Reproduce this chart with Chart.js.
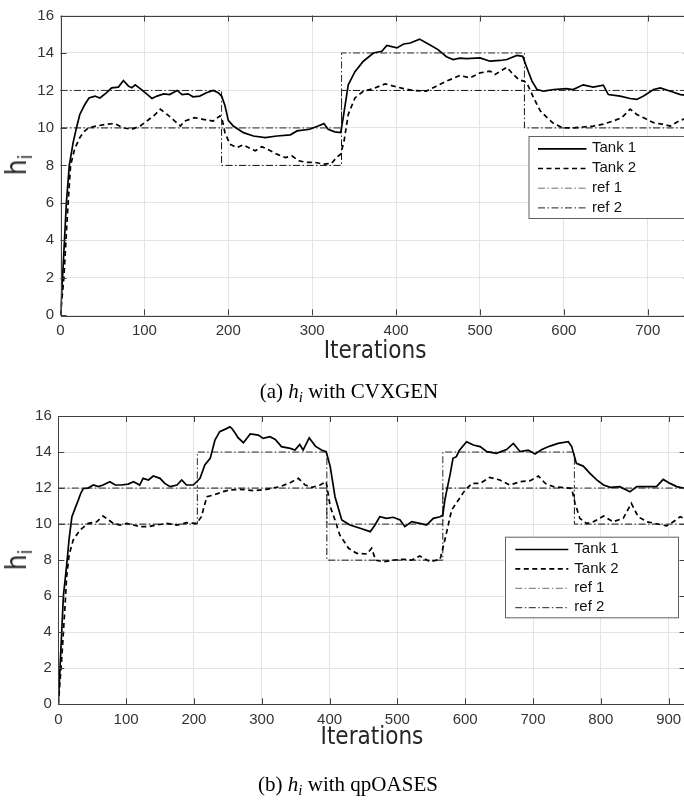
<!DOCTYPE html>
<html>
<head>
<meta charset="utf-8">
<script src="https://cdn.jsdelivr.net/npm/chart.js@4.4.0/dist/chart.umd.min.js"></script>
<style>
  html, body { margin: 0; padding: 0; background: #fff; width: 684px; height: 800px; overflow: hidden; position: relative; }
  .wrap { position: absolute; left: 0; width: 720px; height: 400px; }
  .ylab { position: absolute; font-family: 'DejaVu Sans Condensed', 'DejaVu Sans', sans-serif; font-stretch: condensed;
          font-size: 28px; color: #262626; line-height: 1; white-space: nowrap;
          transform: translate(-50%, -50%) rotate(-90deg); }
  .ylab sub { font-size: 19px; vertical-align: -6px; }
  .cap { position: absolute; font-family: 'Liberation Serif', 'Times New Roman', serif; font-size: 21px; color: #000;
         line-height: 1; white-space: nowrap; transform: translateX(-50%); }
  .cap sub { font-size: 15px; vertical-align: -4px; }
</style>
</head>
<body>
<div class="wrap" style="top:0"><canvas id="cvxgen"></canvas></div>
<div class="wrap" style="top:400px"><canvas id="qpoases"></canvas></div>
<div class="ylab" style="left:19px; top:165px">h<sub>i</sub></div>
<div class="ylab" style="left:19px; top:560px">h<sub>i</sub></div>
<div class="cap" style="left:349px; top:381px">(a) <i>h</i><sub><i>i</i></sub> with CVXGEN</div>
<div class="cap" style="left:348px; top:774px">(b) <i>h</i><sub><i>i</i></sub> with qpOASES</div>

<script>
// ---------- (a) CVXGEN ----------
const cvxTank1X = [0, 3, 7, 10.5, 15, 19, 23, 29, 34, 41, 47, 55, 61, 69, 75, 81, 85, 89, 95, 103, 109, 115, 123, 130, 139, 145, 152, 158, 166, 174, 182, 188, 192, 196, 200, 206, 218, 230, 244, 258, 274, 282, 297, 307, 314, 319, 327, 334, 337, 343, 351, 361, 373, 383, 389, 401, 409, 417, 428, 440, 450, 460, 468, 476, 484, 500, 512, 524, 532, 544, 551, 556, 562, 568, 576, 588, 603, 611, 623, 635, 647, 653, 667, 679, 687, 695, 707, 715, 727, 739, 745];
const cvxTank1 = [0, 2.5, 6.0, 8.0, 9.2, 10.0, 10.72, 11.25, 11.6, 11.7, 11.6, 11.88, 12.14, 12.18, 12.53, 12.23, 12.14, 12.3, 12.1, 11.8, 11.57, 11.7, 11.82, 11.78, 12.0, 11.78, 11.82, 11.66, 11.7, 11.88, 12.0, 11.88, 11.7, 11.2, 10.4, 10.1, 9.75, 9.57, 9.48, 9.57, 9.63, 9.84, 9.93, 10.1, 10.23, 9.93, 9.79, 9.75, 10.55, 12.3, 13.0, 13.56, 14.0, 14.09, 14.4, 14.27, 14.48, 14.53, 14.74, 14.44, 14.18, 13.8, 13.65, 13.72, 13.7, 13.74, 13.56, 13.6, 13.65, 13.87, 13.82, 13.2, 12.5, 12.05, 11.96, 12.05, 12.1, 12.05, 12.3, 12.18, 12.28, 11.78, 11.7, 11.57, 11.52, 11.7, 12.05, 12.14, 11.96, 11.78, 11.75];
const cvxTank2X = [0, 4, 8, 12, 17, 23, 27, 33, 43, 55, 65, 75, 85, 95, 103, 113, 119, 127, 134, 143, 148, 160, 170, 182, 190, 193, 196, 202, 210, 218, 224, 232, 240, 246, 258, 268, 276, 284, 293, 303, 313, 323, 329, 334, 338, 343, 351, 361, 373, 387, 397, 409, 420, 436, 448, 460, 468, 476, 488, 500, 512, 518, 532, 538, 546, 552, 556, 564, 572, 580, 588, 599, 611, 623, 635, 647, 659, 669, 679, 687, 697, 707, 717, 727, 737, 745];
const cvxTank2 = [0, 2.0, 5.2, 8.0, 8.9, 9.48, 9.75, 10.0, 10.1, 10.2, 10.23, 10.0, 9.93, 10.1, 10.37, 10.72, 11.0, 10.72, 10.46, 10.1, 10.37, 10.55, 10.46, 10.37, 10.64, 10.4, 9.75, 9.13, 8.95, 9.1, 8.95, 8.78, 9.0, 8.87, 8.6, 8.42, 8.5, 8.25, 8.16, 8.16, 8.07, 8.1, 8.42, 8.6, 9.3, 10.72, 11.6, 11.96, 12.1, 12.35, 12.23, 12.1, 12.0, 11.96, 12.23, 12.5, 12.64, 12.8, 12.67, 12.94, 13.03, 12.85, 13.24, 12.94, 12.58, 12.5, 12.4, 11.6, 10.9, 10.55, 10.23, 10.0, 10.0, 10.05, 10.1, 10.2, 10.37, 10.55, 11.0, 10.72, 10.5, 10.28, 10.2, 10.1, 10.37, 10.5];
// reference set-points: each value holds from its start iteration until the next one
const cvxRefX = [0, 192, 335, 553, 750];
const cvxRef1 = [12, 10, 14, 12];
const cvxRef2 = [10, 8, 12, 10];

// ---------- (b) qpOASES ----------
const qpTank1X = [0, 4, 7.5, 12, 16, 20, 25, 29.5, 33, 37, 44, 51.6, 59, 66, 76, 84, 93, 103, 111, 120, 125, 133, 140, 150, 157, 165, 175, 182, 189, 199, 204, 209, 216, 224, 231, 238, 248, 253, 256, 261, 265, 273, 283, 295, 302, 312, 320, 329, 342, 349, 356, 361, 370, 379, 388, 395, 401, 408, 418, 430, 445, 460, 467, 474, 484, 494, 504, 511, 521, 533, 543, 553, 563, 567, 570, 573, 578, 582, 587, 591, 602, 612, 622, 632, 646, 661, 671, 681, 693, 703, 713, 725, 737, 752, 757, 764, 774, 784, 794, 804, 814, 828, 843, 853, 868, 882, 892, 902, 912, 923];
const qpTank1 = [0, 3.2, 6.0, 7.6, 9.2, 10.4, 10.9, 11.33, 11.7, 11.98, 12.0, 12.17, 12.08, 12.17, 12.35, 12.17, 12.17, 12.22, 12.35, 12.17, 12.54, 12.45, 12.67, 12.54, 12.26, 12.08, 12.17, 12.45, 12.17, 12.17, 12.35, 12.54, 13.28, 13.65, 14.67, 15.13, 15.3, 15.4, 15.3, 15.04, 14.8, 14.52, 15.0, 14.94, 14.76, 14.85, 14.7, 14.3, 14.2, 14.11, 14.42, 14.11, 14.79, 14.33, 14.11, 14.02, 13.19, 11.52, 10.23, 9.95, 9.77, 9.58, 9.95, 10.41, 10.32, 10.38, 10.23, 9.86, 10.14, 10.04, 9.95, 10.32, 10.41, 10.5, 11.33, 11.9, 12.8, 13.65, 13.74, 14.07, 14.57, 14.39, 14.3, 14.02, 13.93, 14.14, 14.48, 14.02, 14.11, 13.89, 14.14, 14.33, 14.48, 14.57, 14.3, 13.37, 13.22, 12.82, 12.45, 12.17, 12.04, 12.08, 11.8, 12.08, 12.08, 12.08, 12.48, 12.26, 12.08, 11.98];
const qpTank2X = [0, 5, 10, 12.3, 16, 22, 32, 44, 56.5, 66, 71, 81, 91, 101, 111, 120, 133, 145, 160, 175, 189, 204, 211, 219, 228.5, 243, 253, 268, 288, 307, 327, 342, 354, 364, 374, 386, 395, 401, 408, 415, 428, 440, 455, 462, 468, 479, 494, 509, 521, 533, 548, 563, 570, 580, 590, 600, 610, 622, 636, 651, 666, 681, 696, 708, 718, 730, 742, 757, 762, 769, 779, 789, 804, 818, 833, 845, 855, 868, 880, 897, 907, 917, 923];
const qpTank2 = [0, 2.5, 5.5, 7.08, 8.3, 9.12, 9.67, 10.04, 10.13, 10.45, 10.32, 10.04, 9.95, 10.04, 9.95, 9.86, 9.86, 9.95, 10.04, 9.95, 10.08, 10.04, 10.41, 11.52, 11.61, 11.8, 11.9, 11.93, 11.86, 11.93, 12.08, 12.3, 12.54, 12.17, 12.04, 12.17, 12.35, 10.97, 10.23, 9.4, 8.66, 8.38, 8.34, 8.66, 8.0, 7.91, 8.0, 8.05, 8.0, 8.23, 7.91, 8.05, 9.12, 10.78, 11.34, 11.9, 12.26, 12.26, 12.59, 12.45, 12.17, 12.35, 12.41, 12.67, 12.26, 12.08, 12.04, 11.98, 11.15, 10.32, 10.04, 10.13, 10.45, 10.13, 10.32, 11.15, 10.41, 10.13, 10.04, 9.9, 10.13, 10.41, 10.32];
const qpRefX = [0, 205, 396, 567, 761, 925];
const qpRef1 = [12, 14, 10, 14, 12];
const qpRef2 = [10, 12, 8, 12, 10];

const yTicks = [0, 2, 4, 6, 8, 10, 12, 14, 16];
const seriesNames = ['Tank 1', 'Tank 2', 'ref 1', 'ref 2'];

const pts = (xs, ys) => xs.map((x, i) => ({ x: x, y: ys[i] }));
// piecewise-constant set-point: value i spans [edges[i], edges[i+1]]
const steps = (edges, vals) => {
  const out = [];
  vals.forEach((v, i) => { out.push({ x: edges[i], y: v }); out.push({ x: edges[i + 1], y: v }); });
  return out;
};

Chart.defaults.font.family = "'Liberation Sans', Arial, sans-serif";
Chart.defaults.font.size = 15;
Chart.defaults.color = '#333';

// axes box with inward ticks on all four sides
const boxAxes = {
  id: 'boxAxes',
  afterDatasetsDraw(chart) {
    const { ctx, chartArea: a, scales: { x, y } } = chart;
    ctx.save();
    ctx.strokeStyle = '#404040';
    ctx.lineWidth = 1;
    ctx.beginPath();
    x.ticks.forEach(t => {
      const p = Math.round(x.getPixelForValue(t.value)) + 0.5;
      ctx.moveTo(p, a.bottom); ctx.lineTo(p, a.bottom - 6);
      ctx.moveTo(p, a.top); ctx.lineTo(p, a.top + 6);
    });
    y.ticks.forEach(t => {
      const p = Math.round(y.getPixelForValue(t.value)) + 0.5;
      ctx.moveTo(a.left, p); ctx.lineTo(a.left + 6, p);
      ctx.moveTo(a.right, p); ctx.lineTo(a.right - 6, p);
    });
    ctx.stroke();
    ctx.strokeRect(Math.round(a.left) + 0.5, Math.round(a.top) + 0.5,
                   Math.round(a.right - a.left), Math.round(a.bottom - a.top));
    ctx.restore();
  }
};

// boxed legend inside the plot
const boxLegend = {
  id: 'boxLegend',
  afterDraw(chart) {
    const o = chart.options.plugins.boxLegend;
    const { ctx } = chart;
    ctx.save();
    ctx.fillStyle = '#fff';
    ctx.fillRect(o.x, o.y, o.w, o.h);
    ctx.strokeStyle = '#606060';
    ctx.lineWidth = 1;
    ctx.strokeRect(o.x + 0.5, o.y + 0.5, o.w, o.h);
    ctx.font = "15px 'Liberation Sans Narrow', 'Liberation Sans', Arial, sans-serif";
    ctx.textBaseline = 'middle';
    ctx.textAlign = 'left';
    chart.data.datasets.forEach((ds, i) => {
      const yy = o.y + o.row0 + i * o.rowGap;
      ctx.beginPath();
      ctx.strokeStyle = ds.legendColor || ds.borderColor;
      ctx.lineWidth = ds.borderWidth;
      ctx.setLineDash(ds.borderDash || []);
      ctx.moveTo(o.x + o.lineX, yy + 0.5);
      ctx.lineTo(o.x + o.lineX + o.lineLen, yy + 0.5);
      ctx.stroke();
      ctx.setLineDash([]);
      ctx.fillStyle = '#111';
      ctx.fillText(ds.label, o.x + o.textX, yy);
    });
    ctx.restore();
  }
};

function buildDatasets(t1x, t1, t2x, t2, rx, r1, r2) {
  return [
    { label: seriesNames[0], data: pts(t1x, t1), borderColor: '#000', borderWidth: 1.7, order: 1 },
    { label: seriesNames[1], data: pts(t2x, t2), borderColor: '#000', borderWidth: 1.7, borderDash: [5, 3.5], order: 2 },
    { label: seriesNames[2], data: steps(rx, r1), borderColor: '#2a2a2a', legendColor: '#707070', borderWidth: 1, borderDash: [7, 2.5, 1.5, 2.5], order: 3 },
    { label: seriesNames[3], data: steps(rx, r2), borderColor: '#111', legendColor: '#222', borderWidth: 1, borderDash: [7, 2.5, 1.5, 2.5], order: 4 }
  ];
}

function makeChart(id, xMax, datasets, lay, legend) {
  return new Chart(document.getElementById(id), {
    type: 'line',
    data: { datasets: datasets },
    options: {
      responsive: false,
      animation: false,
      events: [],
      layout: { padding: { left: 0, top: lay.top, right: lay.right, bottom: lay.bottom } },
      elements: { point: { radius: 0 }, line: { tension: 0, fill: false } },
      plugins: { legend: { display: false }, tooltip: { enabled: false }, boxLegend: legend },
      scales: {
        x: {
          type: 'linear', min: 0, max: xMax,
          afterFit(s) { s.height = 60; },
          border: { display: false },
          grid: { color: '#e4e4e4', lineWidth: 1, drawTicks: false },
          ticks: { stepSize: 100, includeBounds: false, autoSkip: false, maxRotation: 0, padding: 7, color: '#333' },
          title: {
            display: true, text: 'Iterations', color: '#262626',
            font: { family: "'DejaVu Sans Condensed', 'DejaVu Sans', sans-serif", size: 24 },
            padding: { top: 0, bottom: lay.titlePad }
          }
        },
        y: {
          type: 'linear', min: 0, max: 16,
          afterFit(s) { s.width = lay.left; },
          afterBuildTicks(s) { s.ticks = yTicks.map(v => ({ value: v })); },
          border: { display: false },
          grid: { color: '#e4e4e4', lineWidth: 1, drawTicks: false },
          ticks: { padding: 6.5, color: '#333' }
        }
      }
    },
    plugins: [boxAxes, boxLegend]
  });
}

function sizeCanvas(id) {
  const c = document.getElementById(id);
  c.width = 720; c.height = 400;
  c.style.width = '720px'; c.style.height = '400px';
}
sizeCanvas('cvxgen');
sizeCanvas('qpoases');

makeChart('cvxgen', 750,
  buildDatasets(cvxTank1X, cvxTank1, cvxTank2X, cvxTank2, cvxRefX, cvxRef1, cvxRef2),
  { left: 60.5, top: 14, right: 30.3, bottom: 24.7, titlePad: 9 },
  { x: 528.5, y: 136, w: 165, h: 82, row0: 12.3, rowGap: 19.7, lineX: 9.5, lineLen: 48.5, textX: 63.5 });

makeChart('qpoases', 925,
  buildDatasets(qpTank1X, qpTank1, qpTank2X, qpTank2, qpRefX, qpRef1, qpRef2),
  { left: 58.3, top: 16, right: 34.4, bottom: 35.7, titlePad: 12 },
  { x: 505, y: 136.7, w: 173, h: 80.6, row0: 12.3, rowGap: 19.4, lineX: 10.3, lineLen: 53, textX: 69.3 });
</script>
</body>
</html>
